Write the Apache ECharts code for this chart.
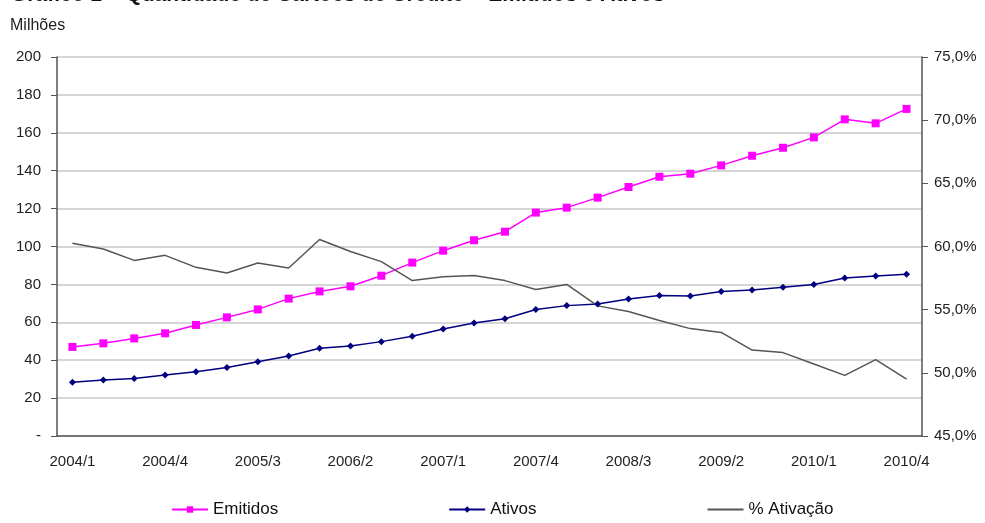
<!DOCTYPE html>
<html>
<head>
<meta charset="utf-8">
<script src="https://cdn.jsdelivr.net/npm/echarts@6/dist/echarts.min.js"></script>
<style>
  html, body { margin: 0; padding: 0; background: #fff; }
  #cartoes { width: 985px; height: 523px; }
</style>
</head>
<body>
<div id="cartoes"></div>
<script>
// trimestres 2004/1 .. 2010/4
var trimestres = []
for (var ano = 2004; ano <= 2010; ano++) {
  for (var t = 1; t <= 4; t++) trimestres.push(ano + '/' + t)
}

// milhoes de cartoes
var emitidos = [47.0, 48.9, 51.5, 54.2, 58.6, 62.6, 66.8, 72.5, 76.3, 79.0,
  84.6, 91.5, 97.8, 103.3, 107.8, 117.9, 120.5, 125.8, 131.4, 136.8,
  138.4, 142.8, 147.9, 152.1, 157.6, 167.1, 165.0, 172.6]
var ativos = [28.3, 29.6, 30.4, 32.2, 33.9, 36.2, 39.2, 42.2, 46.3, 47.5,
  49.8, 52.6, 56.5, 59.6, 61.9, 66.8, 68.8, 69.7, 72.3, 74.2,
  73.9, 76.3, 77.0, 78.5, 79.9, 83.4, 84.4, 85.3]
// % ativacao (eixo direito)
var ativacao = [60.25, 59.8, 58.9, 59.3, 58.35, 57.9, 58.7, 58.3, 60.55, 59.6,
  58.8, 57.3, 57.6, 57.7, 57.3, 56.6, 57.0, 55.3, 54.85, 54.15,
  53.5, 53.2, 51.8, 51.6, 50.7, 49.8, 51.05, 49.5]

var chart = echarts.init(document.getElementById('cartoes'))
var fonte = 'Liberation Sans, Arial, sans-serif'

var option = {
  animation: false,
  textStyle: { fontFamily: fonte },
  title: {
    text: 'Gráfico 1 – Quantidade de Cartões de Crédito – Emitidos e Ativos',
    left: 6,
    top: -20,
    textStyle: { fontSize: 21, fontWeight: 'bold', color: '#111', fontFamily: fonte }
  },
  graphic: [{
    type: 'text',
    left: 10,
    top: 18,
    style: { text: 'Milhões', fontSize: 16, fill: '#222', fontFamily: fonte }
  }],
  legend: {
    bottom: 0,
    left: 166,
    itemGap: 170,
    itemWidth: 36,
    itemHeight: 8,
    textStyle: { fontSize: 17, color: '#111', fontFamily: fonte },
    data: ['Emitidos', 'Ativos', { name: '% Ativação', itemStyle: { opacity: 0 } }]
  },
  grid: { left: 57, right: 63, top: 57, bottom: 87 },
  xAxis: {
    type: 'category',
    data: trimestres,
    boundaryGap: true,
    axisLine: { lineStyle: { color: '#555', width: 1.5 } },
    axisTick: { interval: 0, length: 6, lineStyle: { color: '#555' } },
    axisLabel: { interval: 2, fontSize: 15, color: '#222', margin: 18 }
  },
  yAxis: [{
    type: 'value',
    min: 0,
    max: 200,
    interval: 20,
    axisLine: { show: true, lineStyle: { color: '#555', width: 1.5 } },
    axisTick: { show: true, length: 6, lineStyle: { color: '#555' } },
    splitLine: { lineStyle: { color: '#c8c8c8', width: 1.5 } },
    axisLabel: {
      fontSize: 15, color: '#222', margin: 16,
      formatter: function (v) { return v === 0 ? '-' : v }
    }
  }, {
    type: 'value',
    min: 45,
    max: 75,
    interval: 5,
    position: 'right',
    axisLine: { show: true, lineStyle: { color: '#555', width: 1.5 } },
    axisTick: { show: true, length: 6, lineStyle: { color: '#555' } },
    splitLine: { show: false },
    axisLabel: {
      fontSize: 15, color: '#222', margin: 12,
      formatter: function (v) { return v.toFixed(1).replace('.', ',') + '%' }
    }
  }],
  series: [{
    name: 'Emitidos',
    type: 'line',
    data: emitidos,
    symbol: 'rect',
    symbolSize: 8,
    itemStyle: { color: '#ff00ff' },
    lineStyle: { color: '#ff00ff', width: 1.5 }
  }, {
    name: 'Ativos',
    type: 'line',
    data: ativos,
    symbol: 'diamond',
    symbolSize: 7,
    itemStyle: { color: '#000080' },
    lineStyle: { color: '#000080', width: 1.5 }
  }, {
    name: '% Ativação',
    type: 'line',
    yAxisIndex: 1,
    data: ativacao,
    symbol: 'none',
    itemStyle: { color: '#555' },
    lineStyle: { color: '#555', width: 1.5 }
  }]
}
chart.setOption(option)
</script>
</body>
</html>
